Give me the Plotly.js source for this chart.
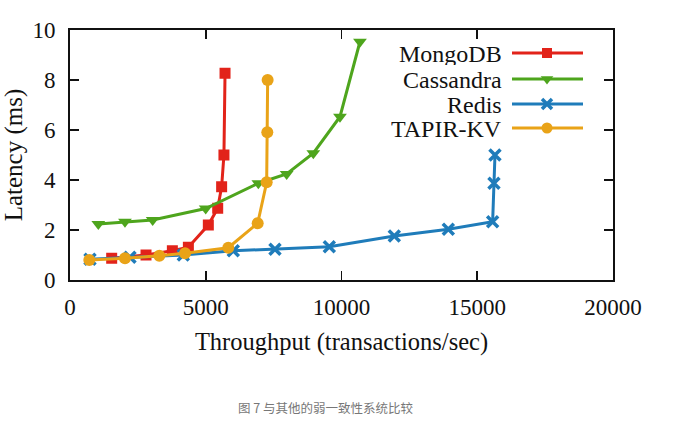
<!DOCTYPE html>
<html>
<head>
<meta charset="utf-8">
<script src="https://cdn.plot.ly/plotly-3.0.1.min.js"></script>
<style>html,body{margin:0;padding:0;background:#fff;}#chart{width:674px;height:427px;}</style>
</head>
<body>
<div id="chart"></div>
<script>
// ---- data ----
const seriesNames = ["MongoDB", "Cassandra", "Redis", "TAPIR-KV"];

const mongoX = [1535, 2800, 3770, 4360, 5095, 5440, 5585, 5670, 5710];
const mongoY = [0.87, 1.0, 1.17, 1.31, 2.2, 2.87, 3.73, 5.0, 8.27];

const cassX = [1043, 2025, 3045, 4998, 6937, 7980, 8962, 9944, 10680];
const cassY = [2.24, 2.33, 2.4, 2.86, 3.87, 4.24, 5.07, 6.53, 9.53];

const redisX = [737, 2210, 4173, 6015, 7550, 9551, 11945, 13934, 15567, 15616, 15653];
const redisY = [0.83, 0.91, 1.0, 1.17, 1.23, 1.33, 1.76, 2.03, 2.33, 3.87, 5.0];

const tapirX = [711, 2025, 3290, 4236, 5830, 6913, 7244, 7267, 7280];
const tapirY = [0.8, 0.87, 0.97, 1.07, 1.29, 2.27, 3.91, 5.91, 8.0];

const xTicks = [0, 5000, 10000, 15000, 20000];
const yTicks = [0, 2, 4, 6, 8, 10];

const xTitle = "Throughput (transactions/sec)";
const yTitle = "Latency (ms)";
const caption = "图 7 与其他的弱一致性系统比较";

// ---- styles ----
const colors = ["#e2231a", "#4ea51d", "#1f7cba", "#e9a318"];
const symbols = ["square", "triangle-down", "x-thin-open", "circle"];
const msize = [11, 12, 11, 12];
const serif = "Liberation Serif, Times New Roman, serif";

const xs = [mongoX, cassX, redisX, tapirX];
const ys = [mongoY, cassY, redisY, tapirY];

const traces = seriesNames.map((n, i) => ({
  type: "scatter", mode: "lines+markers", name: n,
  x: xs[i], y: ys[i],
  line: {color: colors[i], width: 3},
  marker: {symbol: symbols[i], size: msize[i], color: colors[i],
           line: {color: colors[i], width: i === 2 ? 3.5 : 0}},
  showlegend: false, hoverinfo: "skip"
}));

// custom legend (text to the left of the key), on a pixel-like overlay axis
const legRows = [53, 79, 104, 128];
const annotations = [];
seriesNames.forEach((n, i) => {
  traces.push({
    type: "scatter", mode: "lines", xaxis: "x2", yaxis: "y2",
    x: [512, 583], y: [legRows[i], legRows[i]],
    line: {color: colors[i], width: 3}, showlegend: false, hoverinfo: "skip"
  });
  traces.push({
    type: "scatter", mode: "markers", xaxis: "x2", yaxis: "y2",
    x: [547], y: [legRows[i]],
    marker: {symbol: symbols[i], size: msize[i] - 1, color: colors[i],
             line: {color: colors[i], width: i === 2 ? 3.5 : 0}},
    showlegend: false, hoverinfo: "skip"
  });
  annotations.push({
    xref: "x2", yref: "y2", x: 503, y: legRows[i], text: n,
    xanchor: "right", yanchor: "middle", showarrow: false,
    height: 23, borderpad: 0,
    font: {family: serif, size: 24, color: "#111"}
  });
});

annotations.push({
  xref: "paper", yref: "paper", x: (326 - 70) / 543, y: (280 - 407) / 250,
  text: caption, showarrow: false, xanchor: "center", yanchor: "middle",
  font: {family: "Noto Sans CJK SC, sans-serif", size: 12.5, color: "#777"}
});

const axisCommon = {
  showline: true, linecolor: "#111", linewidth: 2, mirror: "allticks",
  ticks: "inside", ticklen: 9, tickwidth: 1.6, tickcolor: "#111",
  showgrid: false, zeroline: false,
  tickfont: {family: serif, size: 23, color: "#111"}
};

const layout = {
  width: 674, height: 427,
  margin: {l: 70, r: 61, t: 30, b: 147},
  paper_bgcolor: "#fff", plot_bgcolor: "#fff",
  xaxis: Object.assign({}, axisCommon, {
    range: [0, 20000], tickvals: xTicks, ticktext: xTicks.map(String),
    ticklabelstandoff: 5, automargin: false,
    title: {text: xTitle, font: {family: serif, size: 24.5, color: "#111"}, standoff: 14}
  }),
  yaxis: Object.assign({}, axisCommon, {
    range: [0, 10], tickvals: yTicks, ticktext: yTicks.map(String),
    ticklabelstandoff: 8, automargin: false,
    title: {text: yTitle, font: {family: serif, size: 25, color: "#111"}, standoff: 6}
  }),
  xaxis2: {overlaying: "x", range: [70, 613], visible: false, fixedrange: true},
  yaxis2: {overlaying: "y", range: [280, 30], visible: false, fixedrange: true},
  annotations: annotations,
  showlegend: false
};

Plotly.newPlot("chart", traces, layout, {staticPlot: true, displayModeBar: false});
</script>
</body>
</html>
